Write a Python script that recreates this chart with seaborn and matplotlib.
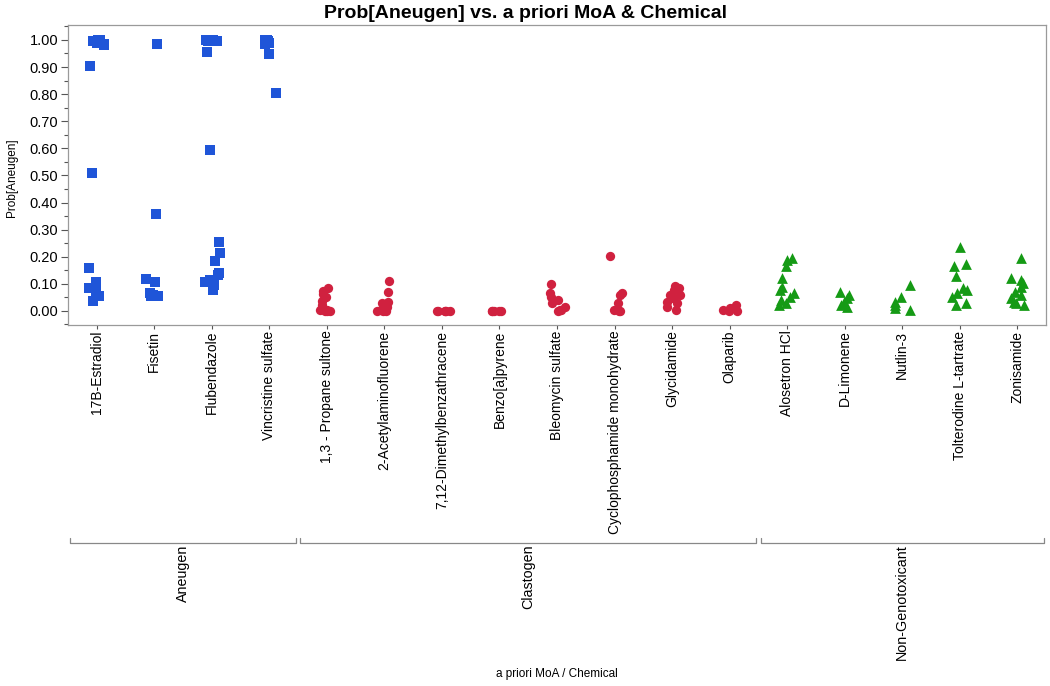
import numpy as np
import pandas as pd
import matplotlib
matplotlib.use('Agg')
import matplotlib.pyplot as plt
import matplotlib.transforms as mtransforms
from matplotlib.ticker import MultipleLocator, FormatStrFormatter
import seaborn as sns

sns.set_style('white')
plt.rcParams['font.family'] = ['Liberation Sans', 'DejaVu Sans']
plt.rcParams['text.color'] = 'black'
np.random.seed(3)

# values, one list per chemical
estradiol = [1.00, 0.998, 0.995, 0.99, 0.985, 0.98, 0.905, 0.51, 0.16, 0.105, 0.085, 0.075, 0.056, 0.038]
fisetin = [0.985, 0.358, 0.117, 0.108, 0.065, 0.06, 0.056, 0.055]
flubendazole = [1.00, 1.00, 0.998, 0.996, 0.995, 0.957, 0.595, 0.253, 0.213, 0.184, 0.139, 0.133, 0.114, 0.108, 0.096, 0.077]
vincristine = [1.00, 0.998, 0.995, 0.99, 0.985, 1.00, 0.948, 0.804]

propane_sultone = [0.084, 0.072, 0.062, 0.053, 0.038, 0.02, 0.004, 0.002, 0.0, 0.0, 0.001]
acetylaminofluorene = [0.111, 0.069, 0.034, 0.028, 0.016, 0.004, 0.0, 0.002, 0.0, 0.001]
dmba = [0.0, 0.0, 0.001, 0.0, 0.0, 0.001]
benzopyrene = [0.0, 0.0, 0.001, 0.0, 0.0]
bleomycin = [0.098, 0.065, 0.053, 0.041, 0.028, 0.016, 0.004, 0.0, 0.002]
cyclophosphamide = [0.204, 0.065, 0.06, 0.031, 0.004, 0.0, 0.001]
glycidamide = [0.092, 0.084, 0.078, 0.059, 0.047, 0.034, 0.016, 0.004, 0.03, 0.06]
olaparib = [0.022, 0.01, 0.004, 0.0, 0.001]

alosetron = [0.197, 0.188, 0.165, 0.12, 0.09, 0.077, 0.065, 0.053, 0.04, 0.028, 0.022]
limonene = [0.071, 0.059, 0.047, 0.034, 0.022, 0.016]
nutlin = [0.096, 0.053, 0.034, 0.022, 0.01, 0.004]
tolterodine = [0.235, 0.173, 0.166, 0.129, 0.086, 0.077, 0.065, 0.053, 0.031, 0.022]
zonisamide = [0.194, 0.12, 0.114, 0.102, 0.09, 0.071, 0.059, 0.047, 0.034, 0.028, 0.022]

aneugen_chems = ['17B-Estradiol', 'Fisetin', 'Flubendazole', 'Vincristine sulfate']
clastogen_chems = ['1,3 - Propane sultone', '2-Acetylaminofluorene', '7,12-Dimethylbenzathracene',
                   'Benzo[a]pyrene', 'Bleomycin sulfate', 'Cyclophosphamide monohydrate',
                   'Glycidamide', 'Olaparib']
nongeno_chems = ['Alosetron HCl', 'D-Limonene', 'Nutlin-3', 'Tolterodine L-tartrate', 'Zonisamide']

groups = ['Aneugen', 'Clastogen', 'Non-Genotoxicant']
group_chems = [aneugen_chems, clastogen_chems, nongeno_chems]
group_values = [
    [estradiol, fisetin, flubendazole, vincristine],
    [propane_sultone, acetylaminofluorene, dmba, benzopyrene, bleomycin, cyclophosphamide, glycidamide, olaparib],
    [alosetron, limonene, nutlin, tolterodine, zonisamide],
]
group_colors = ['#1f55d8', '#d0213f', '#159a15']
group_markers = ['s', 'o', '^']
group_sizes = [55, 45, 60]

rows = []
for g, chems, vals in zip(groups, group_chems, group_values):
    for c, v in zip(chems, vals):
        for p in v:
            rows.append({'MoA': g, 'Chemical': c, 'Prob': p})
df = pd.DataFrame(rows)
order = aneugen_chems + clastogen_chems + nongeno_chems

fig = plt.figure(figsize=(10.5, 6.86), dpi=100)
ax = fig.add_axes([68 / 1050, 1 - 325 / 686, (1046 - 68) / 1050, 300 / 686])

for g, col, mk, sz in zip(groups, group_colors, group_markers, group_sizes):
    sns.stripplot(data=df[df['MoA'] == g], x='Chemical', y='Prob', order=order,
                  color=col, marker=mk, s=np.sqrt(sz), jitter=0.15, linewidth=0,
                  ax=ax, zorder=3)

ax.set_xlim(-0.5, len(order) - 0.5)
ax.set_ylim(-0.052, 1.055)
ax.yaxis.set_major_locator(MultipleLocator(0.1))
ax.yaxis.set_minor_locator(MultipleLocator(0.05))
ax.yaxis.set_major_formatter(FormatStrFormatter('%.2f'))
ax.tick_params(axis='y', which='major', direction='out', length=5, width=0.8,
               color='#555555', labelcolor='black', labelsize=10.5, left=True, pad=2)
ax.tick_params(axis='y', which='minor', direction='out', length=3, width=0.8,
               color='#555555', left=True)
ax.tick_params(axis='x', direction='out', length=3, width=0.8, color='#555555',
               labelcolor='black', labelsize=10, bottom=True, rotation=90, pad=1)
ax.set_xlabel('')
ax.set_ylabel('')
for sp in ax.spines.values():
    sp.set_color('#9a9a9a')
    sp.set_linewidth(0.9)

# group brackets under the chemical labels
trans = mtransforms.blended_transform_factory(ax.transData, ax.transAxes)
bounds = [(-0.5, 3.5), (3.5, 11.5), (11.5, 16.5)]
yb = -0.727
for (lo, hi), g in zip(bounds, groups):
    x0, x1 = lo + 0.04, hi - 0.04
    ax.plot([x0, x0, x1, x1], [yb + 0.018, yb, yb, yb + 0.018], color='#888888',
            lw=0.9, transform=trans, clip_on=False)
    ax.text((lo + hi) / 2, yb - 0.005, g, rotation=90, ha='center', va='top',
            fontsize=10.3, transform=trans)

fig.text(557 / 1050, 1 - 674 / 686, 'a priori MoA / Chemical', ha='center', va='center',
         fontsize=8.5)
fig.text(12 / 1050, 1 - 178 / 686, 'Prob[Aneugen]', rotation=90, ha='center', va='center',
         fontsize=8.5)
fig.text(0.5, 1 - 14 / 686, 'Prob[Aneugen] vs. a priori MoA & Chemical', ha='center',
         va='center', fontsize=14, fontweight='bold')

fig.savefig('out.png', dpi=100)
